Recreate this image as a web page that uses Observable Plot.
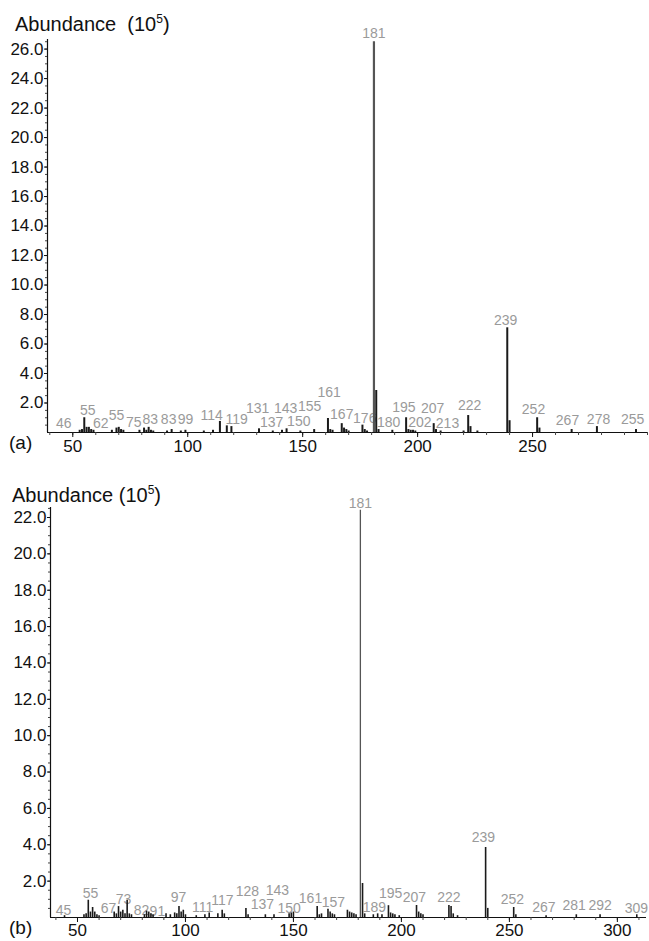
<!DOCTYPE html>
<html>
<head>
<meta charset="utf-8">
<script src="https://cdn.jsdelivr.net/npm/d3@7"></script>
<script src="https://cdn.jsdelivr.net/npm/@observablehq/plot@0.6"></script>
<style>
  html, body { margin: 0; padding: 0; background: #fff; }
  body { width: 649px; height: 941px; position: relative; overflow: hidden; font-family: "Liberation Sans", Arial, Helvetica, sans-serif; }
  .panel { position: absolute; left: 0; width: 649px; }
  .title { position: absolute; font-size: 20px; line-height: 1; color: #111; white-space: nowrap; }
  .title sup { font-size: 12px; vertical-align: 8px; line-height: 0; }
  .tag { position: absolute; font-size: 19px; line-height: 1; color: #111; }
</style>
</head>
<body>
<div id="panelA" class="panel" style="top:0px;height:470px"></div>
<div id="panelB" class="panel" style="top:470px;height:471px"></div>
<div class="title" style="left:15px;top:14px">Abundance&nbsp;&nbsp;(10<sup>5</sup>)</div>
<div class="title" style="left:12px;top:485px">Abundance (10<sup>5</sup>)</div>
<div class="tag" style="left:9px;top:433px">(a)</div>
<div class="tag" style="left:9px;top:918px">(b)</div>
<script>
// ---------- Panel (a) data ----------
const mzA = [53,54,55,56,57,58,59,67,69,70,71,72,79,81,82,83,84,85,91,93,97,99,107,111,114,117,119,131,137,141,143,149,155,161,162,163,167,168,169,170,176,177,178,181,182,183,189,195,196,197,198,199,207,208,210,220,222,223,226,239,240,252,253,267,278,295];
const abA = [0.15,0.2,1.0,0.35,0.35,0.2,0.15,0.15,0.3,0.35,0.2,0.15,0.15,0.3,0.15,0.35,0.15,0.1,0.1,0.2,0.1,0.15,0.1,0.15,0.75,0.45,0.4,0.25,0.1,0.15,0.25,0.1,0.2,0.95,0.2,0.15,0.6,0.3,0.2,0.1,0.5,0.2,0.1,26.5,2.85,0.2,0.15,1.0,0.2,0.15,0.15,0.1,0.6,0.2,0.1,0.1,1.15,0.4,0.1,7.1,0.8,1.0,0.3,0.2,0.4,0.2];
const labelTextA = ["46","55","62","55","75","83","83","99","114","119","131","137","143","150","155","161","167","176","181","180","195","202","207","213","222","239","252","267","278","255"];
const labelMzA   = [46.1,56.5,62.2,69,76.5,83.7,91.7,99,110.4,121.3,130.4,136.5,142.6,148.3,153,161.5,167,177,181,187.4,194,201,206.5,213,222.6,238.3,250.4,265.2,278.7,293.5];
const labelAbA   = [0.64,1.46,0.64,1.12,0.71,0.9,0.9,0.9,1.12,0.9,1.6,0.7,1.65,0.74,1.76,2.68,1.19,0.98,27.05,0.65,1.7,0.66,1.62,0.64,1.8,7.56,1.53,0.78,0.9,0.85];
const yTicksA = d3.range(2, 26.01, 2);
const yMinorA = d3.range(0.5, 26.6, 0.5);
const xTicksA = [50,100,150,200,250];
const xMinorA = d3.range(40, 301, 10);

// ---------- Panel (b) data ----------
const mzB = [44,53,54,55,56,57,58,59,60,67,68,69,70,71,72,73,74,75,81,82,83,84,85,91,93,95,96,97,98,99,100,105,109,111,115,117,118,128,129,137,141,148,149,150,161,162,163,166,167,168,169,175,176,177,178,179,181,182,183,187,189,191,194,195,196,197,199,207,208,209,210,222,223,224,226,239,240,252,253,267,281,292,309];
const abB = [0.1,0.15,0.2,0.95,0.3,0.55,0.3,0.15,0.1,0.3,0.2,0.6,0.3,0.4,0.2,0.95,0.2,0.15,0.15,0.35,0.3,0.2,0.15,0.2,0.15,0.25,0.2,0.6,0.3,0.4,0.15,0.1,0.15,0.25,0.2,0.4,0.2,0.5,0.15,0.15,0.15,0.2,0.25,0.3,0.6,0.15,0.2,0.45,0.3,0.2,0.15,0.4,0.3,0.25,0.2,0.15,22.4,1.87,0.2,0.15,0.2,0.15,0.65,0.25,0.2,0.15,0.1,0.66,0.3,0.2,0.15,0.66,0.6,0.2,0.1,3.85,0.5,0.55,0.15,0.1,0.15,0.15,0.15];
const labelTextB = ["45","55","67","73","82","91","97","111","117","128","137","143","150","161","157","181","189","195","207","222","239","252","267","281","292","309"];
const labelMzB   = [43.5,56,64.4,71.3,79.6,87,96.8,107.9,117.1,128.7,135.6,142.6,148,157.9,168.5,181,187.5,195,206,222,238,251.4,266,280,292,308.8];
const labelAbB   = [0.38,1.32,0.5,0.99,0.38,0.33,1.1,0.55,0.93,1.45,0.72,1.48,0.5,1.05,0.83,22.77,0.55,1.3,1.1,1.1,4.4,0.99,0.55,0.66,0.66,0.5];
const yTicksB = d3.range(2, 22.01, 2);
const yMinorB = d3.range(0.5, 22.6, 0.5);
const xTicksB = [50,100,150,200,250,300];
const xMinorB = d3.range(40, 311, 10);

const FONT = "Liberation Sans, Arial, Helvetica, sans-serif";

function panel(cfg) {
  const bars = cfg.mz.map((m, i) => ({mz: m, ab: cfg.ab[i]}));
  const labels = cfg.labelText.map((t, i) => ({text: t, mz: cfg.labelMz[i], ab: cfg.labelAb[i]}));
  return Plot.plot({
    width: 649,
    height: cfg.height,
    marginLeft: cfg.marginLeft,
    marginRight: cfg.marginRight,
    marginTop: cfg.marginTop,
    marginBottom: cfg.marginBottom,
    style: {fontFamily: FONT, fontSize: "16px", background: "transparent", color: "#111", overflow: "visible"},
    x: {domain: cfg.xDomain},
    y: {domain: [0, cfg.yMax]},
    marks: [
      Plot.text(labels, {x: "mz", y: "ab", text: "text", fill: "#9a9a9a", fontSize: 14, textAnchor: "middle", lineAnchor: "middle"}),
      Plot.ruleX(bars, {x: "mz", y1: 0, y2: "ab", stroke: d => d.ab > 15 ? "#555" : "#1a1a1a", strokeWidth: d => d.ab > 15 ? cfg.peakWidth : cfg.barWidth}),
      Plot.ruleY([0], {stroke: "#111", strokeWidth: 1.2}),
      Plot.ruleX([cfg.xDomain[0]], {y1: 0, y2: cfg.yMax, stroke: "#111", strokeWidth: 1.2}),
      Plot.axisY({ticks: cfg.yMinor, tickFormat: () => "", tickSize: 2, label: null, stroke: "#444"}),
      Plot.axisY({ticks: cfg.yTicks, tickFormat: d3.format(".1f"), tickSize: 3, tickPadding: 1, label: null, fontSize: 17, fill: "#111"}),
      Plot.axisX({ticks: cfg.xMinor, tickFormat: () => "", tickSize: 3, label: null, stroke: "#444"}),
      Plot.axisX({ticks: cfg.xTicks, tickSize: 5, tickPadding: cfg.xPad, label: null, fontSize: 17, fill: "#111"})
    ]
  });
}

document.getElementById("panelA").append(panel({
  mz: mzA, ab: abA, labelText: labelTextA, labelMz: labelMzA, labelAb: labelAbA,
  height: 470, marginLeft: 47, marginRight: 2, marginTop: 39, marginBottom: 38,
  xDomain: [39, 300], yMax: 26.65, yTicks: yTicksA, yMinor: yMinorA,
  xTicks: xTicksA, xMinor: xMinorA, barWidth: 2, peakWidth: 2.2, xPad: 2
}));

document.getElementById("panelB").append(panel({
  mz: mzB, ab: abB, labelText: labelTextB, labelMz: labelMzB, labelAb: labelAbB,
  height: 471, marginLeft: 50, marginRight: 3, marginTop: 37, marginBottom: 24,
  xDomain: [37.5, 313.5], yMax: 22.55, yTicks: yTicksB, yMinor: yMinorB,
  xTicks: xTicksB, xMinor: xMinorB, barWidth: 1.6, peakWidth: 1.3, xPad: 1
}));
</script>
</body>
</html>
